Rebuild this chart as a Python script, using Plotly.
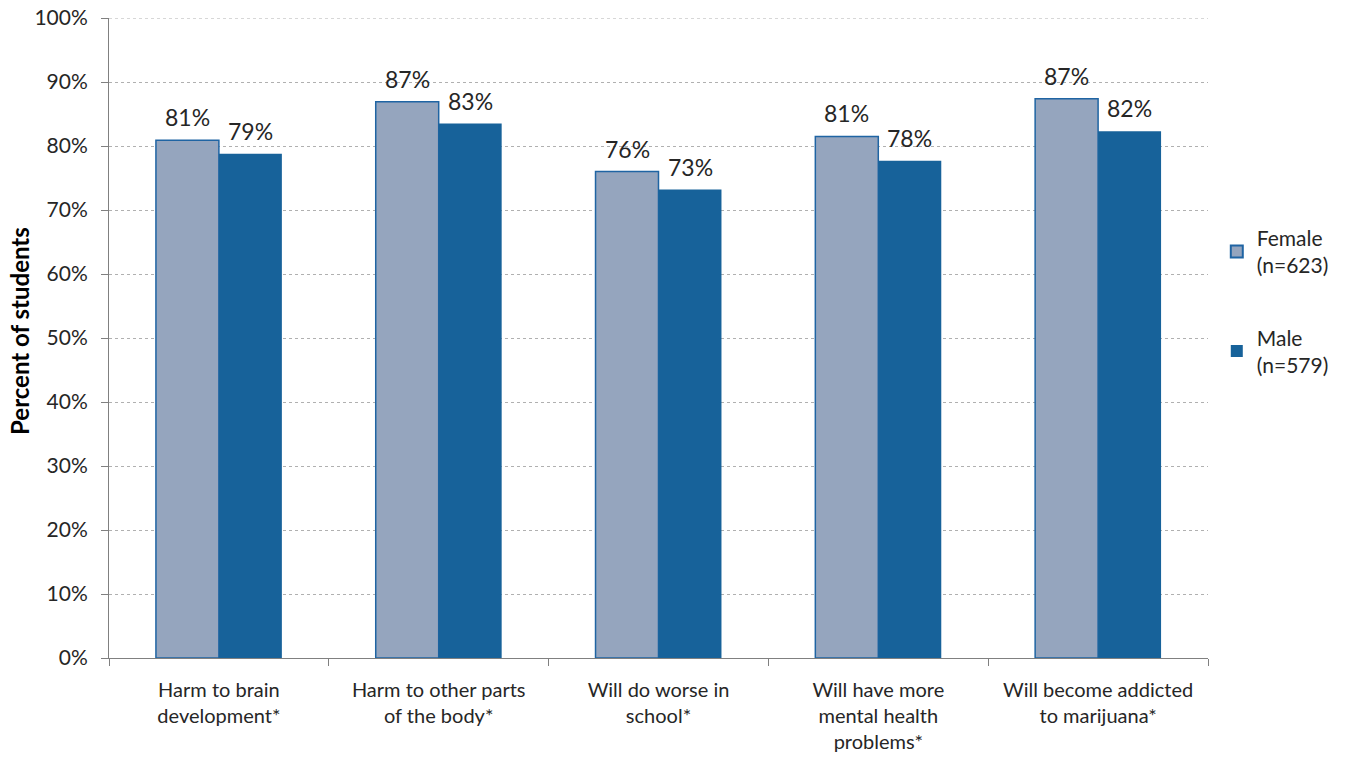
import plotly.graph_objects as go

categories = ["Harm to brain<br>development*", "Harm to other parts<br>of the body*",
              "Will do worse in<br>school*", "Will have more<br>mental health<br>problems*",
              "Will become addicted<br>to marijuana*"]
female = [80.9, 86.9, 76.0, 81.5, 87.4]
male = [78.8, 83.5, 73.2, 77.7, 82.3]
female_labels = ["81%", "87%", "76%", "81%", "87%"]
male_labels = ["79%", "83%", "73%", "78%", "82%"]
y_ticks = [0, 10, 20, 30, 40, 50, 60, 70, 80, 90, 100]

FONT = "Lato, 'Open Sans', sans-serif"
TXT = "#262626"

fig = go.Figure()
fig.add_trace(go.Bar(x=categories, y=female, name="Female<br>(n=623)",
                     legendgroup="f",
                     marker=dict(color="#95A5BE", line=dict(color="#1F64A3", width=1.5))))
fig.add_trace(go.Bar(x=categories, y=male, name="Male<br>(n=579)",
                     legendgroup="m",
                     marker=dict(color="#17629A", line=dict(color="#17629A", width=0))))

half = 31.5
for c, v, t in zip(categories, female, female_labels):
    fig.add_annotation(x=c, y=v, text=t, showarrow=False, xshift=-half, yshift=7,
                       yanchor="bottom", font=dict(size=23, color=TXT, family=FONT))
for c, v, t in zip(categories, male, male_labels):
    fig.add_annotation(x=c, y=v, text=t, showarrow=False, xshift=half, yshift=7,
                       yanchor="bottom", font=dict(size=23, color=TXT, family=FONT))

# y-axis title
fig.add_annotation(text="<b>Percent of students</b>", textangle=-90, showarrow=False,
                   xref="paper", yref="paper", x=0, y=0.511, xshift=-89,
                   xanchor="center", yanchor="middle",
                   font=dict(size=24, family=FONT, color="#000000"))

# top gridline at 100%
fig.add_shape(type="line", xref="paper", yref="y", x0=0, x1=1, y0=y_ticks[-1], y1=y_ticks[-1],
              line=dict(color="#B0B0B0", width=1, dash="dot"), layer="below")

fig.update_layout(
    width=1351, height=761,
    margin=dict(l=109, r=143, t=18, b=103, autoexpand=False),
    plot_bgcolor="white", paper_bgcolor="white",
    barmode="group", bargap=0.427, bargroupgap=0,
    font=dict(family=FONT, color=TXT, size=20),
    legend=dict(x=1.008, y=0.688, xanchor="left", yanchor="top",
                font=dict(size=21, family=FONT, color=TXT),
                tracegroupgap=42, itemsizing="constant"),
    xaxis=dict(type="category", tickson="boundaries", ticks="outside", ticklen=7,
               tickcolor="#808080", showline=True, linecolor="#808080", linewidth=1,
               automargin=False, ticklabelstandoff=14,
               tickfont=dict(size=20, family=FONT, color=TXT), showgrid=False),
    yaxis=dict(range=[0, 100], tickvals=y_ticks, ticktext=[f"{v}%" for v in y_ticks],
               ticks="outside", ticklen=7, tickcolor="#808080",
               showline=True, linecolor="#808080", linewidth=1,
               showgrid=True, gridcolor="#B0B0B0", griddash="dot", gridwidth=1,
               zeroline=False, automargin=False, ticklabelstandoff=9,
               tickfont=dict(size=21, family=FONT, color=TXT)),
)

fig.write_html("out.html", config={"displayModeBar": False},
               post_script="document.body.style.margin='0';")
